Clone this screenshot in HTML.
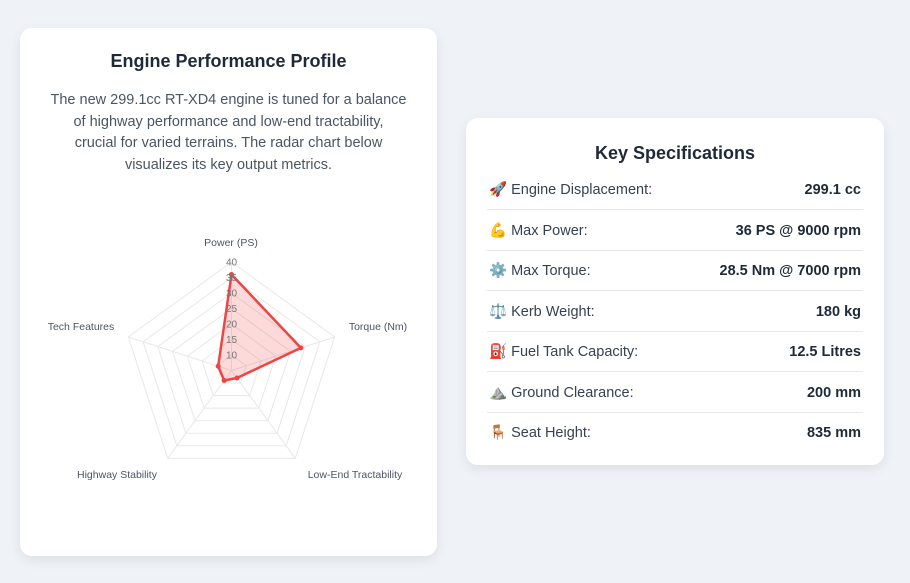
<!DOCTYPE html>
<html><head><meta charset="utf-8"><style>
body{margin:0;width:910px;height:583px;background:#eff2f7;font-family:"Liberation Sans","Noto Sans CJK SC",sans-serif;position:relative;overflow:hidden}
.card{position:absolute;background:#fff;border-radius:12px;box-shadow:0 4px 12px rgba(0,0,0,0.08)}
h2{margin:0;font-size:18px;font-weight:bold;color:#1f2937;text-align:center}
p{margin:0;font-size:14.5px;line-height:21.5px;color:#4b5563;text-align:center;white-space:nowrap}
.row{position:absolute;left:21px;right:21px;height:40px;border-bottom:1px solid #e5e7eb;font-size:14.5px;color:#374151}
.row .l,.row .v{position:absolute;top:12px;line-height:18px;height:18px;white-space:nowrap}
.row .l{left:2px}
.row .v{right:2px;font-weight:bold;color:#1f2937}
</style></head><body>
<div class="card" style="left:20px;top:28px;width:417px;height:528px">
<h2 style="position:absolute;top:23px;left:0;right:0">Engine Performance Profile</h2>
<p style="position:absolute;top:62px;left:0;right:0">The new 299.1cc RT-XD4 engine is tuned for a balance<br>of highway performance and low-end tractability,<br>crucial for varied terrains. The radar chart below<br>visualizes its key output metrics.</p>
</div>
<svg style="position:absolute;left:0;top:0" width="910" height="583" id="s"></svg>
<div class="card" style="left:466px;top:118px;width:418px;height:347px">
<h2 style="position:absolute;top:25px;left:0;right:0">Key Specifications</h2>
<div class="row" style="top:51px"><span class="l">🚀 Engine Displacement:</span><span class="v">299.1 cc</span></div>
<div class="row" style="top:92px"><span class="l">💪 Max Power:</span><span class="v">36 PS @ 9000 rpm</span></div>
<div class="row" style="top:132px"><span class="l">⚙️ Max Torque:</span><span class="v">28.5 Nm @ 7000 rpm</span></div>
<div class="row" style="top:173px"><span class="l">⚖️ Kerb Weight:</span><span class="v">180 kg</span></div>
<div class="row" style="top:213px"><span class="l">⛽ Fuel Tank Capacity:</span><span class="v">12.5 Litres</span></div>
<div class="row" style="top:254px"><span class="l">⛰️ Ground Clearance:</span><span class="v">200 mm</span></div>
<div class="row" style="top:294px;border-bottom:none"><span class="l">🪑 Seat Height:</span><span class="v">835 mm</span></div>
</div>
<script>
var cx=231.5,cy=370.5,s=document.getElementById('s'),h='';
var ang=[-90,-18,54,126,198].map(a=>a*Math.PI/180);
function pt(r,i){return (cx+r*Math.cos(ang[i])).toFixed(1)+','+(cy+r*Math.sin(ang[i])).toFixed(1)}
for(var k=1;k<=7;k++){var r=15.5*k;h+='<polygon points="'+[0,1,2,3,4].map(i=>pt(r,i)).join(' ')+'" fill="none" stroke="#e8e8e8" stroke-width="1"/>';}
for(var i=0;i<5;i++)h+='<line x1="'+cx+'" y1="'+cy+'" x2="'+pt(108.5,i).split(',')[0]+'" y2="'+pt(108.5,i).split(',')[1]+'" stroke="#e8e8e8"/>';
var d=[96,73,9.3,12.4,14];
h+='<polygon points="'+d.map((r,i)=>pt(r,i)).join(' ')+'" fill="rgba(239,68,68,0.2)" stroke="#ef4444" stroke-width="2.5" stroke-linejoin="round"/>';
d.forEach((r,i)=>{var p=pt(r,i).split(',');h+='<circle cx="'+p[0]+'" cy="'+p[1]+'" r="2.5" fill="#ef4444"/>'});
for(var k=1;k<=7;k++)h+='<text x="'+cx+'" y="'+(cy-15.5*k+3.5)+'" font-size="10" fill="#777" text-anchor="middle" font-family="Liberation Sans">'+(5+5*k)+'</text>';
var L=[['Power (PS)',231,246],['Torque (Nm)',378,330],['Low-End Tractability',355,478],['Highway Stability',117,478],['Tech Features',81,330]];
L.forEach(l=>h+='<text x="'+l[1]+'" y="'+l[2]+'" font-size="10.5" fill="#4b5563" text-anchor="middle" font-family="Liberation Sans">'+l[0]+'</text>');
s.innerHTML=h;
</script>
</body></html>
